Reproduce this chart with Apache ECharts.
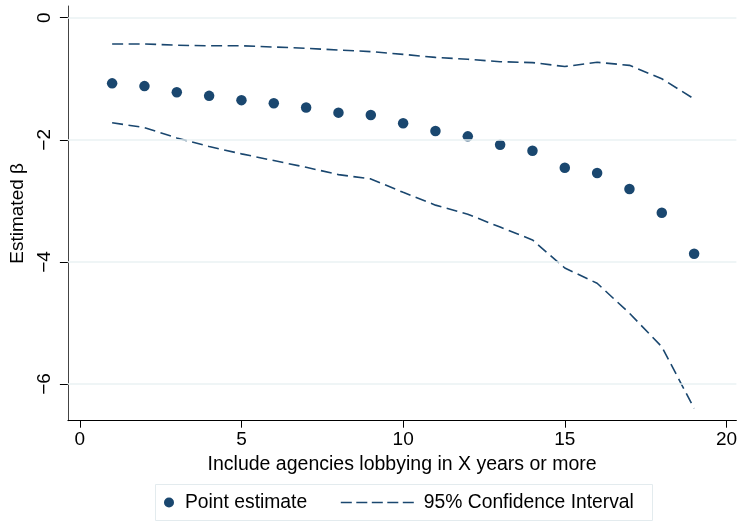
<!DOCTYPE html>
<html>
<head>
<meta charset="utf-8">
<script src="https://cdn.jsdelivr.net/npm/echarts@6/dist/echarts.min.js"></script>
<style>
html,body{margin:0;padding:0;background:#fff;}
#chart{width:740px;height:521px;}
</style>
</head>
<body>
<div id="chart"></div>
<script>
// ---- data ----
const years = [1,2,3,4,5,6,7,8,9,10,11,12,13,14,15,16,17,18,19];
const pointEstimate = [-1.075,-1.12,-1.22,-1.28,-1.35,-1.40,-1.47,-1.555,-1.594,-1.73,-1.856,-1.943,-2.08,-2.18,-2.457,-2.544,-2.806,-3.194,-3.866];
const ciUpper = [-0.43,-0.43,-0.45,-0.46,-0.46,-0.48,-0.50,-0.53,-0.555,-0.60,-0.65,-0.68,-0.72,-0.735,-0.80,-0.73,-0.78,-1.00,-1.33];
const ciLower = [-1.72,-1.80,-1.97,-2.11,-2.23,-2.34,-2.45,-2.57,-2.64,-2.86,-3.07,-3.22,-3.43,-3.64,-4.10,-4.35,-4.84,-5.39,-6.40];
const xTicks = [0,5,10,15,20];
const yTicks = [0,-2,-4,-6];
const xTitle = 'Include agencies lobbying in X years or more';
const yTitle = 'Estimated β';
const pointName = 'Point estimate';
const ciName = '95% Confidence Interval';

const navy = '#1a476f';
const gridColor = '#eaf2f3';
const font = 'Liberation Sans, Arial, Helvetica, sans-serif';
const zip = (xs, ys) => xs.map((x, i) => [x, ys[i]]);
const fmt = v => String(v).replace('-', '\u2212');

const chart = echarts.init(document.getElementById('chart'), null, {renderer: 'canvas'});
chart.setOption({
  animation: false,
  backgroundColor: '#fff',
  textStyle: {fontFamily: font},
  grid: {left: 66, right: 0, top: 6, bottom: 100.3, containLabel: false},
  xAxis: {
    type: 'value', min: -0.368, max: 20.307,
    axisLine: {show: true, onZero: false, lineStyle: {color: '#000', width: 1}},
    axisTick: {show: true, customValues: xTicks, length: 7, lineStyle: {color: '#000'}},
    axisLabel: {customValues: xTicks, color: '#000', fontSize: 19, margin: 10, fontFamily: font},
    splitLine: {show: false},
    name: xTitle, nameLocation: 'middle', nameGap: 31,
    nameTextStyle: {color: '#000', fontSize: 19.5, fontFamily: font}
  },
  yAxis: {
    type: 'value', min: -6.601, max: 0.192,
    axisLine: {show: true, onZero: false, lineStyle: {color: '#444', width: 1}},
    axisTick: {show: true, customValues: yTicks, length: 8, lineStyle: {color: '#000'}},
    axisLabel: {customValues: yTicks, rotate: 90, color: '#000', fontSize: 19, margin: 14, formatter: fmt, fontFamily: font},
    splitLine: {show: false},
    name: yTitle, nameLocation: 'middle', nameRotate: 90, nameGap: 31,
    nameTextStyle: {color: '#000', fontSize: 19, fontFamily: font}
  },
  legend: [
    {
      data: [pointName], left: 164, top: 493, padding: 0,
      itemWidth: 10, itemHeight: 10, icon: 'circle',
      textStyle: {color: '#000', fontSize: 19.3, fontFamily: font, padding: [0,0,0,6]}
    },
    {
      data: [{name: ciName, itemStyle: {opacity: 0, color: 'transparent', borderWidth: 0}}], left: 340, top: 493, padding: 0,
      itemWidth: 73, itemHeight: 10,
      lineStyle: {color: navy, width: 1.6, type: [11, 4.5]},
      textStyle: {color: '#000', fontSize: 19.3, fontFamily: font, padding: [0,0,0,5]}
    }
  ],
  graphic: [{
    type: 'rect', z: -1, silent: true,
    shape: {x: 155.5, y: 484.5, width: 497, height: 36},
    style: {fill: '#fff', stroke: '#e3ebee', lineWidth: 1}
  }],
  series: [
    {
      type: 'line', name: 'grid', data: [], z: 0, silent: true,
      markLine: {
        silent: true, symbol: ['none','none'], label: {show: false},
        lineStyle: {color: gridColor, width: 1.6, type: 'solid'},
        data: yTicks.map(v => ({yAxis: v}))
      }
    },
    {
      type: 'line', name: ciName, data: zip(years, ciUpper), symbol: 'none', z: 2,
      lineStyle: {color: navy, width: 1.6, type: [11, 5.5]}, itemStyle: {color: navy}
    },
    {
      type: 'line', name: ciName, data: zip(years, ciLower), symbol: 'none', z: 2,
      lineStyle: {color: navy, width: 1.6, type: [11, 5.5]}, itemStyle: {color: navy}
    },
    {
      type: 'scatter', name: pointName, data: zip(years, pointEstimate), symbol: 'circle', symbolSize: 10.5, z: 3,
      itemStyle: {color: navy, opacity: 1}
    }
  ]
});
</script>
</body>
</html>
